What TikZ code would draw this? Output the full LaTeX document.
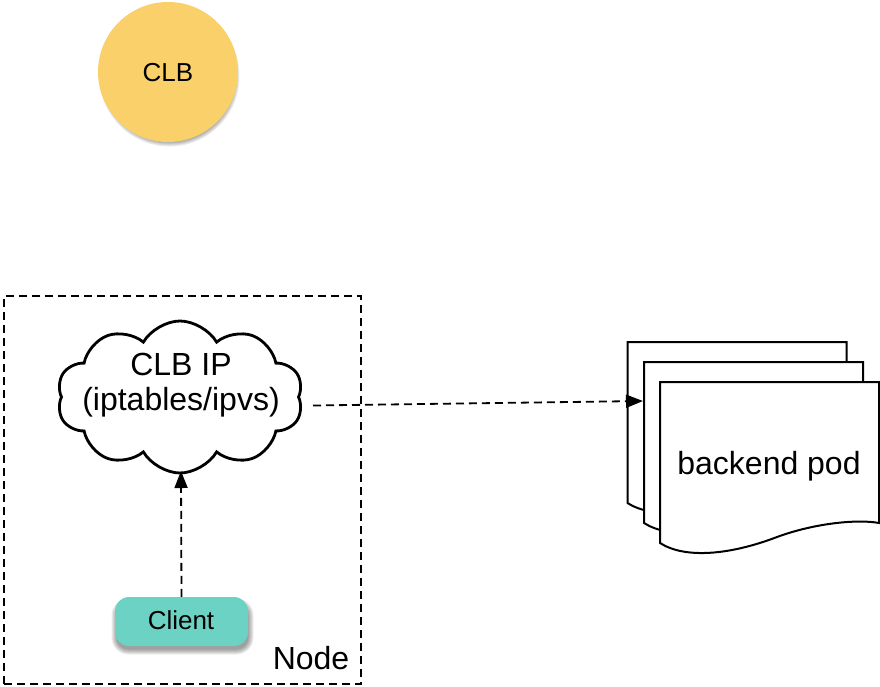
\documentclass[tikz,border=0pt]{standalone}
\usepackage{fontspec}
\setmainfont{Liberation Sans}
\usetikzlibrary{arrows.meta,shapes.symbols}
\definecolor{clbyellow}{RGB}{249,208,106}
\definecolor{clientteal}{RGB}{108,211,196}
\tikzset{
  dashline/.style={line width=1.8pt, dash pattern=on 8pt off 5pt},
  flowarrow/.style={dashline, -{Triangle[length=17pt,width=13pt]}},
  docshape/.style={draw, line width=2pt, fill=white, line join=miter},
  cloudline/.style={draw, line width=2.8pt, fill=white},
  shadowlayer/.style={fill=black, opacity=0.075},
  bigtext/.style={font=\fontsize{32}{35}\selectfont, inner sep=0pt, anchor=base},
  smalltext/.style={font=\fontsize{26}{30}\selectfont, inner sep=0pt, anchor=base},
}
\begin{document}
\begin{tikzpicture}[x=1pt,y=-1pt]
\useasboundingbox (0,0) rectangle (880,686);

% CLB circle with soft shadow
\foreach \k in {0,...,5}{
  \fill[shadowlayer] (169.5,76.5) circle ({65+\k});
}
\node[circle, fill=clbyellow, minimum size=140pt, inner sep=0pt] (clb) at (168,72) {};
\node[smalltext] (clbtext) at (168,81) {CLB};

% Node box
\node[draw, dashline, minimum width=357pt, minimum height=388pt, inner sep=0pt] (nodebox) at (182.5,490) {};
\node[bigtext] (nodelabel) at (311,669) {Node};

% Cloud
\node[cloud, cloudline, cloud puffs=10, cloud puff arc=120, aspect=1.6, shape border rotate=18,
      minimum width=246pt, minimum height=152pt, inner sep=0pt] (cloud) at (180,397) {};
\node[bigtext] (cloudl1) at (181,375) {CLB IP};
\node[bigtext] (cloudl2) at (181,410) {(iptables/ipvs)};
\coordinate (cloudout) at (313,405.5);
\coordinate (cloudin) at (181,471);

% Client with soft shadow
\foreach \k in {0,...,5}{
  \fill[shadowlayer, rounded corners={12+\k}] ({116.5-\k},{603.5-\k}) rectangle ({248.5+\k},{649.5+\k});
}
\node[rectangle, rounded corners=14pt, fill=clientteal, minimum width=133pt, minimum height=49pt, inner sep=0pt] (client) at (181.5,621.5) {};
\node[smalltext] (clienttext) at (181,629) {Client};

% Backend pod documents
\foreach \dx/\dy in {627.5/342, 644/362, 660/382}{
  \draw[docshape, shift={(\dx,\dy)}] (0,0) -- (219,0) -- (219,141)
     .. controls (198,137) and (155,141) .. (117,155)
     .. controls (70,173) and (25,177) .. (0,161) -- cycle;
}
\node[bigtext] (podtext) at (769,474) {backend pod};
\coordinate (podin) at (643,401);

% Connectors
\draw[flowarrow] (cloudout) -- (podin);
\draw[flowarrow] (client.north) -- (cloudin);
\end{tikzpicture}
\end{document}
